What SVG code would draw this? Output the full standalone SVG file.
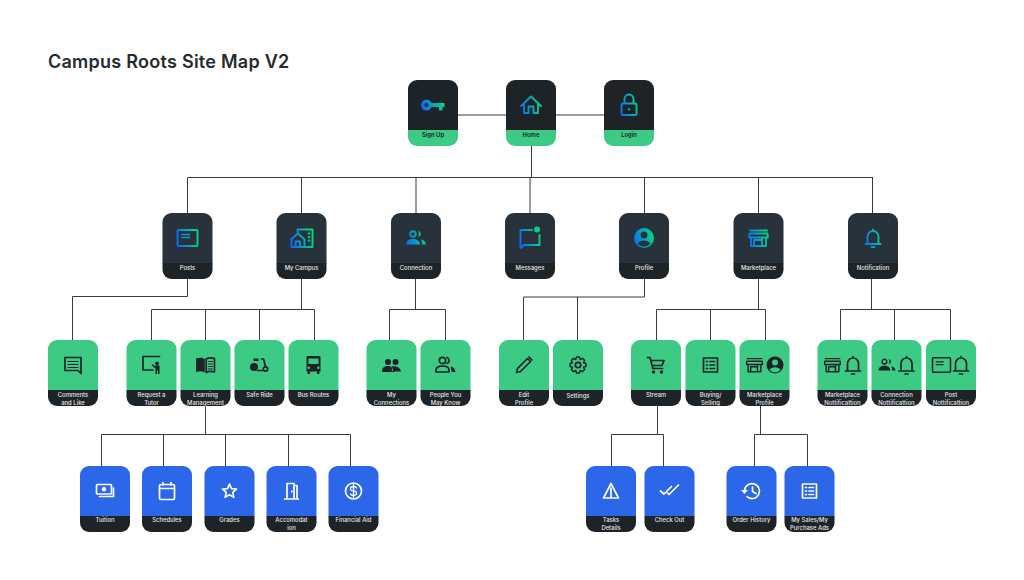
<svg xmlns="http://www.w3.org/2000/svg" width="1024" height="580" viewBox="0 0 1024 580">
<style>
text{font-family:"Inter","Liberation Sans",sans-serif;font-weight:600;font-size:5.9px;text-anchor:middle}
#title{font-size:18px;letter-spacing:.26px;font-weight:600;text-anchor:start;fill:#252b30}
#connectors path{fill:none;stroke:#3a3a3a;stroke-width:1}
text.lt{fill:#e4e6e8;font-weight:500}
.dk{fill:#1e2327}
.o{fill:none}
.s{stroke:none}
.ic{stroke-width:1.7;stroke-linejoin:round;stroke-linecap:round}
.grad{stroke:url(#grad);fill:url(#grad);stroke-width:1.9}
.dark{stroke:#1e2327;fill:#1e2327}
.white{stroke:#fff;fill:#fff}
.c-top{fill:#1e2327}.b-top{fill:#3cca85}
.c-mid{fill:#29323a}.b-mid{fill:#1e2327}
.c-grn{fill:#3cca85}.b-drk{fill:#1e2327}
.c-blu{fill:#2b67e8}
</style>
<defs>
<linearGradient id="grad" gradientUnits="userSpaceOnUse" x1="-11" y1="4" x2="11" y2="-2"><stop offset="0" stop-color="#0a68ff"/><stop offset="1" stop-color="#00dc82"/></linearGradient>
<path id="card" d="M0 50.500V9A9 9 0 0 1 9 0H41A9 9 0 0 1 50 9V50.500Z"/>
<path id="band" d="M0 50H50V57A9 9 0 0 1 41 66H9A9 9 0 0 1 0 57Z"/>
<g id="i-key"><circle class="o" cx="-6.500" cy="0" r="3.800" stroke-width="3.400"/><path class="s" d="M-3-2H11.500V2H9.500V5.500H6V2H-3Z"/></g>
<g id="i-home"><path class="o" d="M-10 1L0-8.500L10 1M-7-1V8H-2.500V1.500H2.500V8H7V-1"/></g>
<g id="i-lock"><rect class="o" x="-7.500" y="-1.500" width="15" height="11.500" rx="1.500"/><path class="o" d="M-4.500-2V-6A4.500 4.500 0 0 1 4.500-6V-2"/><circle class="s" cx="0" cy="4.200" r="1.300"/></g>
<g id="i-post"><rect class="o" x="-10" y="-8" width="20" height="16" rx="1"/><path class="o" d="M-6-3.500H2M-6-.5H2" stroke-width="1.300"/></g>
<g id="i-campus"><path class="o" d="M-4-6V-8.500H11V9H4"/><path class="o" d="M-10.500 1.500L-3.500-4.500L3 1.500V9H-10V1.500M-6 9V3.500H-1.500V9"/><path class="o" d="M7-4.500H8M7-1H8M7 2.500H8" stroke-width="1.800"/></g>
<g id="i-people"><circle class="o" cx="-3" cy="-4" r="2.800"/><path class="s" d="M2-6.800A2.800 2.800 0 0 1 2-1.200C3-3 3-5 2-6.800ZM-10 6.500C-9.500 2-6 1-3 1S4 2.500 4 6.500ZM5 1.500C8 2 9.500 3.500 10 6.500H6C6 4.500 5.800 3 5 1.500Z"/></g>
<g id="i-msg"><path class="o" d="M2-8H-9.500V10L-6 7H9.500V-3"/><circle class="s" cx="7" cy="-8.500" r="3"/></g>
<g id="i-profile"><path class="s" fill-rule="evenodd" d="M-10 0A10 10 0 1 0 10 0A10 10 0 1 0-10 0ZM-3.500-3A3.500 3.500 0 1 1 3.500-3A3.500 3.500 0 1 1-3.500-3ZM-6.500 5.500C-5.500 3.500-2.500 2.500 0 2.500S5.500 3.500 6.500 5.500C5 7.500 2.500 8.500 0 8.500S-5 7.500-6.500 5.500Z"/></g>
<g id="i-store"><path class="o" d="M-8.500-7.500H8.500M-9-4.500H9L9.300-.5H-9.300ZM-7.500-.5V8H7.500V-.5M-4.500 2V8M3.500-.5V8M-4.500 2H3.500"/></g>
<g id="i-bell"><path class="o" d="M-5.500 5.500V-1.500A5.500 5.500 0 0 1 5.500-1.500V5.500M-7.500 6H7.500M0-7V-8.500"/><path class="o" d="M-1.500 9H1.500"/></g>
<g id="i-comment"><path class="o" d="M-8-7.500H8V8.500L5 5.500H-8Z"/><path class="o" d="M-5-3.500H5M-5-.5H5M-5 2.500H5" stroke-width="1.100"/></g>
<g id="i-teacher"><path class="o" d="M8-8.500H-8.500V5H1.500"/><circle class="s" cx="5.500" cy="-1.500" r="1.900"/><path class="s" d="M1-1L3 1L4 .5H8V9H6.500V5.500H5.500V9H4V3L2.500 2.500L0 0Z"/></g>
<g id="i-book"><path class="s" d="M-9.500-6.500C-6.500-7.500-3-7.500-.7-6V7.500C-3 6-6.500 6-9.500 7Z"/><path class="o" d="M.7-6C3-7.500 6-7.500 9-6.500V7C6 6 3 6 .7 7.500Z"/><path class="o" d="M3-3.500H7M3-1H7M3 1.500H7M3 4H7" stroke-width="1"/></g>
<g id="i-scoot"><circle class="s" cx="-5.500" cy="2" r="4"/><circle class="o" cx="6" cy="4" r="2.200"/><path class="s" d="M-6-6.500H-1V-4H-6Z"/><path class="o" d="M2-6H4L6 1.500M-2 5.500H3"/></g>
<g id="i-bus"><path class="s" fill-rule="evenodd" d="M-7-8Q-7-9-5-9H5Q7-9 7-8V6.500H6V9H3.500V6.500H-3.500V9H-6V6.500H-7ZM-5-6.500V-1H5V-6.500ZM-4.800 1.500A1.300 1.300 0 1 0-4.790 4.100A1.300 1.300 0 1 0-4.800 1.500ZM4.800 1.500A1.300 1.300 0 1 0 4.790 4.100A1.300 1.300 0 1 0 4.800 1.500Z"/></g>
<g id="i-people2"><circle class="s" cx="-3.500" cy="-3" r="3"/><circle class="s" cx="4" cy="-3" r="3"/><path class="s" d="M-9.500 6C-9.500 2-6 1-3.500 1S2 2-.1 6Z"/><path class="s" d="M1.500 6.500C1.500 4 1 3 0 1.500C5 .500 9 3 9.500 6.500Z"/><path class="s" d="M-9.500 6H3V7H-9.500Z"/></g>
<g id="i-people3"><circle class="o" cx="-3" cy="-4.500" r="3.200"/><path class="o" d="M1.500-7.500A3.200 3.200 0 0 1 1.500-1.500"/><path class="o" d="M-9.500 7V5C-9.500 2-6 1-3 1S3.500 2 3.500 5V7Z"/><path class="s" d="M5 1.500C8 2 9.500 3.500 10 7H6C6 5 5.800 3 5 1.500Z"/></g>
<g id="i-pencil"><path class="o" d="M-7.500 7.500L-6.500 3.500L3.500-6.500L6.500-3.500L-3.500 6.500ZM5-8L8-5"/></g>
<g id="i-gear"><path class="o" transform="scale(.85)" d="M6.490-2.620L9.330-1.810V1.810L6.490 2.620L6.440 2.740L7.880 5.310L5.310 7.880L2.740 6.440L2.620 6.490L1.810 9.330H-1.810L-2.620 6.490L-2.740 6.440L-5.310 7.880L-7.880 5.310L-6.440 2.740L-6.490 2.620L-9.330 1.810V-1.810L-6.490-2.620L-6.440-2.740L-7.880-5.310L-5.310-7.880L-2.740-6.440L-2.620-6.490L-1.810-9.330H1.810L2.620-6.490L2.740-6.440L5.310-7.880L7.880-5.310L6.440-2.740Z"/><circle class="o" cx="0" cy="0" r="2.700"/></g>
<g id="i-cart"><path class="o" d="M-8.500-7.500H-6L-3 3.500H6.500M-5-4.500H8L6 .5H-3.500"/><circle class="s" cx="-2.500" cy="7" r="1.700"/><circle class="s" cx="5.500" cy="7" r="1.700"/></g>
<g id="i-list"><rect class="o" x="-7" y="-7" width="14" height="14"/><path class="o" d="M-4-3.500H-3M-4 0H-3M-4 3.500H-3M-.5-3.500H4M-.5 0H4M-.5 3.500H4"/></g>
<g id="i-money"><rect class="o" x="-8.500" y="-6.500" width="15" height="9.500" rx="1"/><circle class="s" cx="-1" cy="-1.700" r="2.200"/><path class="o" d="M8.500-3V5.500H-5.500"/></g>
<g id="i-cal"><rect class="o" x="-7.500" y="-6.500" width="15" height="15" rx="1.500"/><path class="o" d="M-7.500-2.500H7.500M-4-8.500V-6M4-8.500V-6"/></g>
<g id="i-star"><path class="o" d="M0-7L2-2.300L7-1.900L3.200 1.400L4.400 6.400L0 3.700L-4.400 6.400L-3.200 1.400L-7-1.900L-2-2.300Z"/></g>
<g id="i-door"><path class="o" d="M-7 8H7M-4.500 8V-7.500H2.500V8M2.500-5.500H5.500V8"/><path class="s" d="M-.5-.5H1V1.500H-.5Z"/></g>
<g id="i-dollar"><circle class="o" cx="0" cy="0" r="8"/><path class="o" d="M3-3C2.500-4.500 1-4.500 0-4.500C-2-4.500-3-3.500-3-2.200C-3-.5-1.500 0 0 0S3 .5 3 2.200C3 3.500 2 4.500 0 4.500C-1 4.500-2.500 4.500-3 3M0-6.500V6.500" stroke-width="1.300"/></g>
<g id="i-warn"><path class="o" d="M0-7.500L7.500 7H-7.500ZM0-3V7"/></g>
<g id="i-check"><path class="o" d="M-9 0L-5.500 3L2-4.500M-2.500 1.500L-.500 3.500L9-6"/></g>
<g id="i-hist"><path class="o" d="M-7 0A7.500 7.500 0 1 1-4.500 5.700M1-4V.5L4.500 2.500"/><path class="s" d="M-10.500-1H-3.500L-7 3Z"/></g>
</defs>
<text id="title" x="48" y="68.300">Campus Roots Site Map V2</text>
<g id="connectors">
<path d="M458 115H604"/>
<path d="M531.500 146V178M187.500 177.500H873M187.500 178V213M301.500 178V213M416 178V213M530 178V213M644.500 178V213M758.500 178V213M872.500 178V213"/>
<path d="M187.500 279V296.500H72.500V340"/>
<path d="M301.500 279V309M151.500 309.500H314.500M151.500 309.500V340M205.500 309.500V340M259.500 309.500V340M314.500 309.500V340"/>
<path d="M415.500 279V309M389.500 309.500H445.500M389.500 309.500V340M445.500 309.500V340"/>
<path d="M644.500 279V297H523.500V340M577.500 297V340"/>
<path d="M758.500 279V309M656.500 309.500H765.500M656.500 309.500V340M710.500 309.500V340M765.500 309.500V340"/>
<path d="M871.500 279V309M840.500 309.500H950.500M840.500 309.500V340M894.500 309.500V340M950.500 309.500V340"/>
<path d="M205.500 406V434.500M101.500 434.500H350.500M101.500 434.500V466M163.500 434.500V466M225.500 434.500V466M288.500 434.500V466M350.500 434.500V466"/>
<path d="M657.500 406V434.500M611.500 434.500H663.500M611.500 434.500V466M663.500 434.500V466"/>
<path d="M760.500 406V434.500M754.500 434.500H807.500M754.500 434.500V466M807.500 434.500V466"/>
</g>
<g id="node-signup" transform="translate(408 80)"><use href="#card" class="c-top"/><use href="#band" class="b-top"/><use href="#i-key" class="ic grad" x="25" y="25"/><text class="dk" x="25" y="57.300">Sign Up</text></g>
<g id="node-home" transform="translate(506 80)"><use href="#card" class="c-top"/><use href="#band" class="b-top"/><use href="#i-home" class="ic grad" x="25" y="25"/><text class="dk" x="25" y="57.300">Home</text></g>
<g id="node-login" transform="translate(604 80)"><use href="#card" class="c-top"/><use href="#band" class="b-top"/><use href="#i-lock" class="ic grad" x="25" y="25"/><text class="dk" x="25" y="57.300">Login</text></g>
<g id="node-posts" transform="translate(162.500 213)"><use href="#card" class="c-mid"/><use href="#band" class="b-mid"/><use href="#i-post" class="ic grad" x="25" y="25"/><text class="lt" x="25" y="57.300">Posts</text></g>
<g id="node-mycampus" transform="translate(276.500 213)"><use href="#card" class="c-mid"/><use href="#band" class="b-mid"/><use href="#i-campus" class="ic grad" x="25" y="25"/><text class="lt" x="25" y="57.300">My Campus</text></g>
<g id="node-connection" transform="translate(391 213)"><use href="#card" class="c-mid"/><use href="#band" class="b-mid"/><use href="#i-people" class="ic grad" x="25" y="25"/><text class="lt" x="25" y="57.300">Connection</text></g>
<g id="node-messages" transform="translate(505 213)"><use href="#card" class="c-mid"/><use href="#band" class="b-mid"/><use href="#i-msg" class="ic grad" x="25" y="25"/><text class="lt" x="25" y="57.300">Messages</text></g>
<g id="node-profile" transform="translate(619 213)"><use href="#card" class="c-mid"/><use href="#band" class="b-mid"/><use href="#i-profile" class="ic grad" x="25" y="25"/><text class="lt" x="25" y="57.300">Profile</text></g>
<g id="node-marketplace" transform="translate(733.500 213)"><use href="#card" class="c-mid"/><use href="#band" class="b-mid"/><use href="#i-store" class="ic grad" x="25" y="25"/><text class="lt" x="25" y="57.300">Marketplace</text></g>
<g id="node-notification" transform="translate(848 213)"><use href="#card" class="c-mid"/><use href="#band" class="b-mid"/><use href="#i-bell" class="ic grad" x="25" y="25"/><text class="lt" x="25" y="57.300">Notification</text></g>
<g id="node-comments" transform="translate(48 340)"><use href="#card" class="c-grn"/><use href="#band" class="b-drk"/><use href="#i-comment" class="ic dark" x="25" y="25"/><text class="lt" x="25" y="57.200">Comments</text><text class="lt" x="25" y="64.900">and Like</text></g>
<g id="node-tutor" transform="translate(126.500 340)"><use href="#card" class="c-grn"/><use href="#band" class="b-drk"/><use href="#i-teacher" class="ic dark" x="25" y="25"/><text class="lt" x="25" y="57.200">Request a</text><text class="lt" x="25" y="64.900">Tutor</text></g>
<g id="node-learning" transform="translate(180.500 340)"><use href="#card" class="c-grn"/><use href="#band" class="b-drk"/><use href="#i-book" class="ic dark" x="25" y="25"/><text class="lt" x="25" y="57.200">Learning</text><text class="lt" x="25" y="64.900">Management</text></g>
<g id="node-saferide" transform="translate(234.500 340)"><use href="#card" class="c-grn"/><use href="#band" class="b-drk"/><use href="#i-scoot" class="ic dark" x="25" y="25"/><text class="lt" x="25" y="57.200">Safe Ride</text></g>
<g id="node-bus" transform="translate(288.500 340)"><use href="#card" class="c-grn"/><use href="#band" class="b-drk"/><use href="#i-bus" class="ic dark" x="25" y="25"/><text class="lt" x="25" y="57.200">Bus Routes</text></g>
<g id="node-myconn" transform="translate(366.500 340)"><use href="#card" class="c-grn"/><use href="#band" class="b-drk"/><use href="#i-people2" class="ic dark" x="25" y="25"/><text class="lt" x="25" y="57.200">My</text><text class="lt" x="25" y="64.900">Connections</text></g>
<g id="node-pymk" transform="translate(420.500 340)"><use href="#card" class="c-grn"/><use href="#band" class="b-drk"/><use href="#i-people3" class="ic dark" x="25" y="25"/><text class="lt" x="25" y="57.200">People You</text><text class="lt" x="25" y="64.900">May Know</text></g>
<g id="node-edit" transform="translate(499 340)"><use href="#card" class="c-grn"/><use href="#band" class="b-drk"/><use href="#i-pencil" class="ic dark" x="25" y="25"/><text class="lt" x="25" y="57.200">Edit</text><text class="lt" x="25" y="64.900">Profile</text></g>
<g id="node-settings" transform="translate(553 340)"><use href="#card" class="c-grn"/><use href="#band" class="b-drk"/><use href="#i-gear" class="ic dark" x="25" y="25"/><text class="lt" x="25" y="57.800">Settings</text></g>
<g id="node-stream" transform="translate(631 340)"><use href="#card" class="c-grn"/><use href="#band" class="b-drk"/><use href="#i-cart" class="ic dark" x="25" y="25"/><text class="lt" x="25" y="57.200">Stream</text></g>
<g id="node-buying" transform="translate(685.500 340)"><use href="#card" class="c-grn"/><use href="#band" class="b-drk"/><use href="#i-list" class="ic dark" x="25" y="25"/><text class="lt" x="25" y="57.200">Buying/</text><text class="lt" x="25" y="64.900">Selling</text></g>
<g id="node-mprofile" transform="translate(739.500 340)"><use href="#card" class="c-grn"/><use href="#band" class="b-drk"/><use href="#i-store" class="ic dark" transform="translate(15 25) scale(.85)"/><use href="#i-profile" class="ic dark" transform="translate(35.500 25) scale(.85)"/><text class="lt" x="25" y="57.200">Marketplace</text><text class="lt" x="25" y="64.900">Profile</text></g>
<g id="node-mnotif" transform="translate(817.500 340)"><use href="#card" class="c-grn"/><use href="#band" class="b-drk"/><use href="#i-store" class="ic dark" transform="translate(15 25) scale(.85)"/><use href="#i-bell" class="ic dark" transform="translate(35.500 25)"/><text class="lt" x="25" y="57.200">Marketplace</text><text class="lt" x="25" y="64.900">Nottificattion</text></g>
<g id="node-cnotif" transform="translate(871.500 340)"><use href="#card" class="c-grn"/><use href="#band" class="b-drk"/><use href="#i-people" class="ic dark" transform="translate(15.500 25) scale(.85)"/><use href="#i-bell" class="ic dark" transform="translate(35 25)"/><text class="lt" x="25" y="57.200">Connection</text><text class="lt" x="25" y="64.900">Nottificattion</text></g>
<g id="node-pnotif" transform="translate(926 340)"><use href="#card" class="c-grn"/><use href="#band" class="b-drk"/><use href="#i-post" class="ic dark" transform="translate(15.500 25) scale(.9)"/><use href="#i-bell" class="ic dark" transform="translate(35 25)"/><text class="lt" x="25" y="57.200">Post</text><text class="lt" x="25" y="64.900">Nottificattion</text></g>
<g id="node-tuition" transform="translate(80 466)"><use href="#card" class="c-blu"/><use href="#band" class="b-drk"/><use href="#i-money" class="ic white" x="25" y="25"/><text class="lt" x="25" y="56">Tuition</text></g>
<g id="node-schedules" transform="translate(142 466)"><use href="#card" class="c-blu"/><use href="#band" class="b-drk"/><use href="#i-cal" class="ic white" x="25" y="25"/><text class="lt" x="25" y="56">Schedules</text></g>
<g id="node-grades" transform="translate(204.500 466)"><use href="#card" class="c-blu"/><use href="#band" class="b-drk"/><use href="#i-star" class="ic white" x="25" y="25"/><text class="lt" x="25" y="56">Grades</text></g>
<g id="node-accom" transform="translate(266.500 466)"><use href="#card" class="c-blu"/><use href="#band" class="b-drk"/><use href="#i-door" class="ic white" x="25" y="25"/><text class="lt" x="25" y="56">Accomodat</text><text class="lt" x="25" y="63.700">ion</text></g>
<g id="node-finaid" transform="translate(328.500 466)"><use href="#card" class="c-blu"/><use href="#band" class="b-drk"/><use href="#i-dollar" class="ic white" x="25" y="25"/><text class="lt" x="25" y="56">Financial Aid</text></g>
<g id="node-tasks" transform="translate(586 466)"><use href="#card" class="c-blu"/><use href="#band" class="b-drk"/><use href="#i-warn" class="ic white" x="25" y="25"/><text class="lt" x="25" y="56">Tasks</text><text class="lt" x="25" y="63.700">Details</text></g>
<g id="node-checkout" transform="translate(644.500 466)"><use href="#card" class="c-blu"/><use href="#band" class="b-drk"/><use href="#i-check" class="ic white" x="25" y="25"/><text class="lt" x="25" y="56">Check Out</text></g>
<g id="node-history" transform="translate(726.500 466)"><use href="#card" class="c-blu"/><use href="#band" class="b-drk"/><use href="#i-hist" class="ic white" x="25" y="25"/><text class="lt" x="25" y="56">Order History</text></g>
<g id="node-sales" transform="translate(784.500 466)"><use href="#card" class="c-blu"/><use href="#band" class="b-drk"/><use href="#i-list" class="ic white" x="25" y="25"/><text class="lt" x="25" y="56">My Sales/My</text><text class="lt" x="25" y="63.700">Purchase Ads</text></g>
</svg>
